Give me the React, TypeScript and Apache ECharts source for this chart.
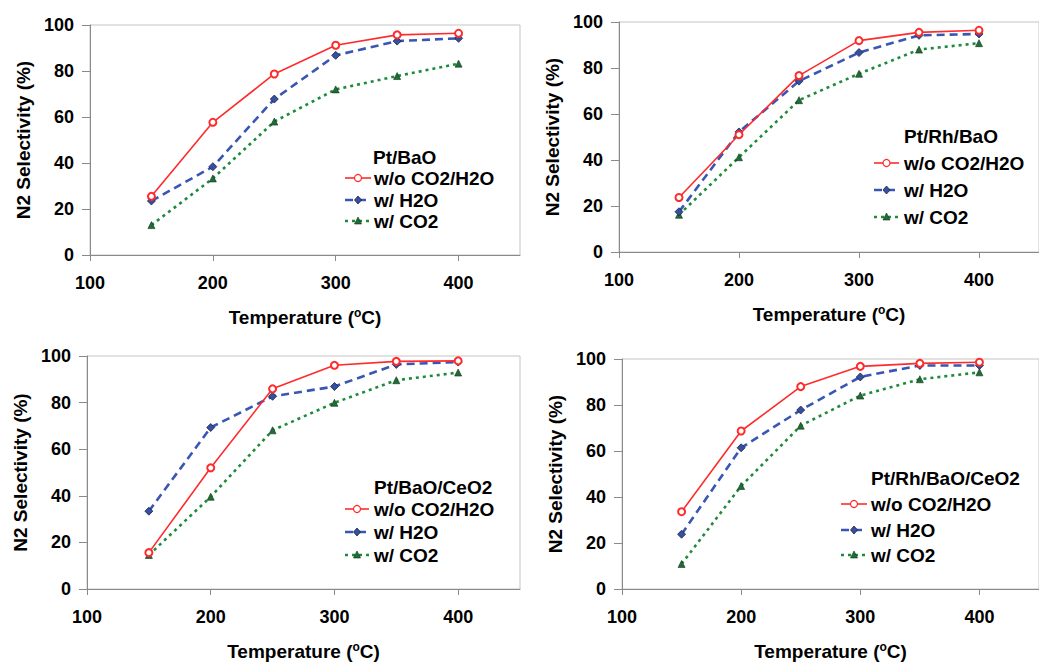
import React, { useEffect, useRef } from "react";
import * as echarts from "echarts";

const temps = [150, 200, 250, 300, 350, 400];
const xTicks = [100, 200, 300, 400];
const seriesNames = ["w/o CO2/H2O", "w/ H2O", "w/ CO2"];
const panelTitles = ["Pt/BaO", "Pt/Rh/BaO", "Pt/BaO/CeO2", "Pt/Rh/BaO/CeO2"];

// Pt/BaO
const ptBaO_noCO2H2O = [25.5, 57.7, 78.7, 91.2, 95.7, 96.4];
const ptBaO_H2O = [23.5, 38.4, 67.8, 86.8, 93.0, 94.2];
const ptBaO_CO2 = [13.0, 33.3, 58.0, 72.0, 77.8, 83.2];
// Pt/Rh/BaO
const ptRhBaO_noCO2H2O = [23.7, 51.0, 76.7, 91.9, 95.5, 96.4];
const ptRhBaO_H2O = [17.5, 52.2, 74.3, 86.7, 94.2, 94.8];
const ptRhBaO_CO2 = [16.2, 41.2, 66.0, 77.5, 88.0, 90.8];
// Pt/BaO/CeO2
const ptBaOCeO2_noCO2H2O = [15.6, 52.0, 85.9, 96.0, 97.7, 97.9];
const ptBaOCeO2_H2O = [33.4, 69.3, 82.7, 86.9, 96.4, 97.4];
const ptBaOCeO2_CO2 = [14.6, 39.6, 68.1, 79.9, 89.6, 92.9];
// Pt/Rh/BaO/CeO2
const ptRhBaOCeO2_noCO2H2O = [33.6, 68.7, 88.0, 96.8, 98.1, 98.6];
const ptRhBaOCeO2_H2O = [23.8, 61.4, 77.8, 92.2, 97.2, 97.2];
const ptRhBaOCeO2_CO2 = [10.9, 44.8, 71.0, 84.1, 91.2, 94.2];

const panelData = [
  [ptBaO_noCO2H2O, ptBaO_H2O, ptBaO_CO2],
  [ptRhBaO_noCO2H2O, ptRhBaO_H2O, ptRhBaO_CO2],
  [ptBaOCeO2_noCO2H2O, ptBaOCeO2_H2O, ptBaOCeO2_CO2],
  [ptRhBaOCeO2_noCO2H2O, ptRhBaOCeO2_H2O, ptRhBaOCeO2_CO2],
];

const FONT = "'Liberation Sans', Arial, sans-serif";
const RED = "#ff2b2b";
const BLUE = "#3a56b4";
const BLUE_MK = "#34509f";
const GREEN = "#1e8a3c";
const GREEN_MK = "#1f6e36";
const AXIS = "#8a8a8a";
const BORDER = "#c4c4c4";

const grids = [
  { left: 90, top: 25, width: 430, height: 230 },
  { left: 619, top: 22, width: 429, height: 230 },
  { left: 87, top: 356, width: 433, height: 233 },
  { left: 622, top: 359, width: 429, height: 230 },
];

const legends = [
  { tx: 373, ty: 157, rows: [178, 200, 221], lx1: 345, lx2: 371, textX: 374 },
  { tx: 904, ty: 136, rows: [163, 190, 217], lx1: 874, lx2: 899, textX: 904 },
  { tx: 374, ty: 487, rows: [509, 532, 555], lx1: 345, lx2: 369, textX: 374 },
  { tx: 871, ty: 478, rows: [504, 530, 555], lx1: 841, lx2: 867, textX: 871 },
];

const lineStyles = [
  { color: RED, width: 1.6, type: "solid" as any },
  { color: BLUE, width: 2.6, type: [8, 5] as any },
  { color: GREEN, width: 2.6, type: [3, 4] as any },
];

function legendGraphics(li: number) {
  const L = legends[li];
  const els: any[] = [];
  els.push({
    type: "text",
    x: L.tx,
    y: L.ty,
    style: { text: panelTitles[li], fill: "#000", font: `bold 19px ${FONT}`, verticalAlign: "middle", align: "left" },
  });
  L.rows.forEach((y, k) => {
    const ls = lineStyles[k];
    els.push({
      type: "line",
      shape: { x1: L.lx1, y1: y, x2: L.lx2, y2: y },
      style: {
        stroke: ls.color,
        lineWidth: k === 0 ? 1.6 : 2.4,
        lineDash: k === 0 ? null : k === 1 ? [8, 5] : [3, 4],
      },
    });
    const cx = (L.lx1 + L.lx2) / 2;
    if (k === 0) {
      els.push({ type: "circle", shape: { cx, cy: y, r: 3.5 }, style: { fill: "#fff", stroke: RED, lineWidth: 1.2 } });
    } else if (k === 1) {
      els.push({
        type: "polygon",
        shape: { points: [[cx, y - 4], [cx + 3.5, y], [cx, y + 4], [cx - 3.5, y]] },
        style: { fill: BLUE_MK, stroke: "#1a2248", lineWidth: 0.8 },
      });
    } else {
      els.push({
        type: "polygon",
        shape: { points: [[cx, y - 4], [cx + 3.5, y + 3], [cx - 3.5, y + 3]] },
        style: { fill: GREEN_MK, stroke: "#10301a", lineWidth: 0.6 },
      });
    }
    els.push({
      type: "text",
      x: L.textX,
      y: y,
      style: { text: seriesNames[k], fill: "#000", font: `bold 19px ${FONT}`, verticalAlign: "middle", align: "left" },
    });
  });
  return els;
}

export default function App() {
  const ref = useRef<HTMLDivElement>(null);
  useEffect(() => {
    if (!ref.current) return;
    const chart = echarts.init(ref.current, undefined, { renderer: "svg" });
    const textBase = { color: "#000", fontFamily: FONT, fontWeight: "bold" as const, fontSize: 19 };
    const tickText = { ...textBase, fontSize: 18 };
    const option: any = {
      animation: false,
      backgroundColor: "#fff",
      grid: grids.map((g) => ({ ...g, show: true, borderColor: BORDER, borderWidth: 1, backgroundColor: "transparent" })),
      xAxis: grids.map((_, i) => ({
        type: "value",
        gridIndex: i,
        min: 100,
        max: 450,
        interval: 100,
        splitLine: { show: false },
        axisLine: { show: true, onZero: false, lineStyle: { color: AXIS, width: 1 } },
        axisTick: { show: true, length: 6, lineStyle: { color: AXIS }, customValues: xTicks },
        axisLabel: { ...tickText, margin: 19, customValues: xTicks },
        name: "Temperature ({sup|o}C)",
        nameLocation: "middle",
        nameGap: 52,
        nameTextStyle: {
          ...textBase,
          rich: {
            sup: { fontSize: 12, fontWeight: "bold", fontFamily: FONT, color: "#000", padding: [0, 0, 9, 0] },
          },
        },
      })),
      yAxis: grids.map((_, i) => ({
        type: "value",
        gridIndex: i,
        min: 0,
        max: 100,
        interval: 20,
        splitLine: { show: false },
        axisLine: { show: true, onZero: false, lineStyle: { color: AXIS, width: 1 } },
        axisTick: { show: true, length: 8, lineStyle: { color: AXIS } },
        axisLabel: { ...tickText, margin: 16 },
        name: "N2 Selectivity (%)",
        nameLocation: "middle",
        nameGap: 57,
        nameTextStyle: { ...textBase },
      })),
      series: panelData.flatMap((arrs, i) =>
        arrs.map((vals, k) => ({
          type: "line",
          name: seriesNames[k],
          xAxisIndex: i,
          yAxisIndex: i,
          data: temps.map((t, j) => [t, vals[j]]),
          symbol: k === 0 ? "emptyCircle" : k === 1 ? "diamond" : "triangle",
          symbolSize: k === 0 ? 7 : k === 1 ? 8 : 7,
          showSymbol: true,
          lineStyle: lineStyles[k],
          itemStyle:
            k === 0
              ? { color: RED, borderColor: RED, borderWidth: 1.2 }
              : k === 1
              ? { color: BLUE_MK, borderColor: "#1a2248", borderWidth: 0.8 }
              : { color: GREEN_MK, borderColor: "#10301a", borderWidth: 0.6 },
          z: 3 - k + 2,
        }))
      ),
      graphic: [0, 1, 2, 3].flatMap((li) => legendGraphics(li)),
    };
    chart.setOption(option);
    return () => chart.dispose();
  }, []);
  return (
    <div
      ref={ref}
      style={{ position: "fixed", left: 0, top: 0, width: 1039, height: 664, background: "#fff" }}
    />
  );
}
